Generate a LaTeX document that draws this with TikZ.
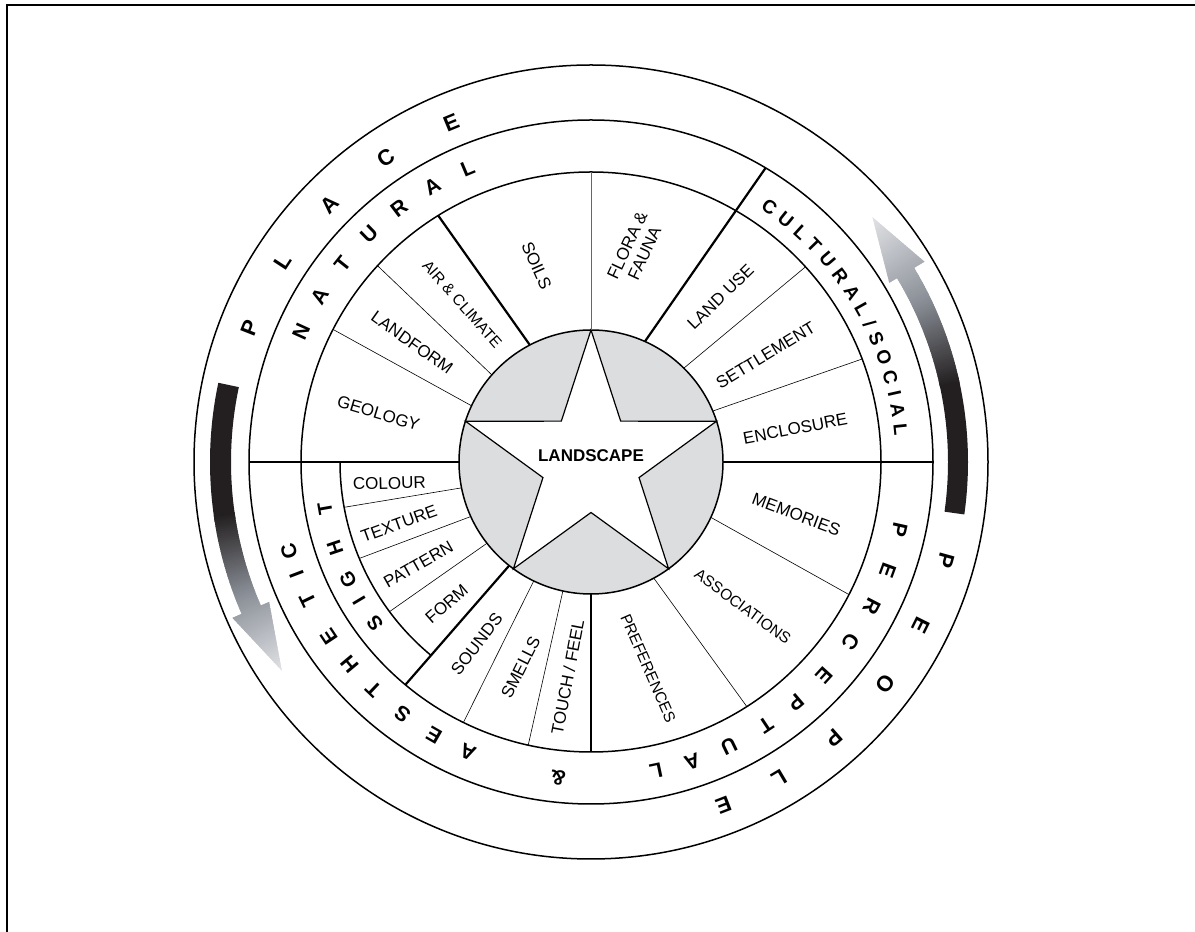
\documentclass[tikz,border=0pt]{standalone}
\usepackage{fontspec}
\setmainfont{Liberation Sans}
\definecolor{ablack}{HTML}{231F20}
\definecolor{amid}{HTML}{8C9199}
\definecolor{alight}{HTML}{E8E9EC}
\definecolor{hubgray}{HTML}{DCDDDF}
\newcommand\arcslices[6]{%
  \foreach \ii in {0,...,39}{%
    \pgfmathsetmacro\slA{#1+(#2-#1)*\ii/40}%
    \pgfmathsetmacro\slB{#1+(#2-#1)*(\ii+1.6)/40}%
    \pgfmathsetmacro\slP{100-2.5*\ii}%
    \fill[#3!\slP!#4] (\slA:#5) -- (\slA:#6) arc[start angle=\slA, end angle=\slB, radius=#6] -- (\slB:#5) arc[start angle=\slB, end angle=\slA, radius=#5] -- cycle;
  }}
\tikzset{
  ringbig/.style={font=\bfseries\fontsize{22}{22}\selectfont, inner sep=0pt},
  ringlet/.style={font=\bfseries\fontsize{21}{21}\selectfont, inner sep=0pt},
  ringsmall/.style={font=\bfseries\fontsize{19}{19}\selectfont, inner sep=0pt},
  sightlet/.style={font=\bfseries\fontsize{20}{20}\selectfont, inner sep=0pt},
  cell/.style={font=\fontsize{17}{19}\selectfont, inner sep=0pt, align=center},
  cellsm/.style={font=\fontsize{15.5}{17}\selectfont, inner sep=0pt},
  thickline/.style={line width=2.2pt},
  thinline/.style={line width=0.6pt},
  ringcircle/.style={line width=1.5pt},
}
\begin{document}
\begin{tikzpicture}[x=1pt,y=1pt]
\useasboundingbox (0,0) rectangle (1195,932);
\draw[line width=1.6pt] (7,0) -- (7,927) -- (1195,927);
\begin{scope}[shift={(591,470)}]
  % rings
  \draw[ringcircle] (0,0) circle[radius=397];
  \draw[ringcircle] (0,0) circle[radius=342];
  \draw[ringcircle] (0,0) circle[radius=290];
  \draw[ringcircle] (180:251) arc[start angle=180, end angle=230.4, radius=251];
  % hub
  \draw[ringcircle, fill=hubgray] (0,0) circle[radius=132];
  \draw[line width=1.2pt, fill=white] (90:132) -- (126:50.5) -- (162:132) -- (198:50.5) -- (234:132) -- (270:50.5) -- (306:132) -- (342:50.5) -- (18:132) -- (54:50.5) -- cycle;
  \node[font=\bfseries\fontsize{17}{17}\selectfont, inner sep=0pt] (landscape) at (0,6) {LANDSCAPE};
  % thick sector lines
  \draw[thickline] (180:132) -- (180:342);
  \draw[thickline] (0:132) -- (0:342);
  \draw[thickline] (117.6:132) -- (121.8:290);
  \draw[thickline] (65.9:132) -- (59.3:342);
  \draw[thickline] (231.7:132) -- (230.2:290);
  \draw[thickline] (270:132) -- (270:290);
  \draw[thinline, black!60] (90:132) -- (90:290);
  % thin sector lines
  \draw[thinline] (154.8:132) -- (152.8:290);
  \draw[thinline] (138.7:132) -- (137.4:290);
  \draw[thinline] (45.3:132) -- (42.3:290);
  \draw[thinline] (22.7:132) -- (20.8:290);
  \draw[thinline] (-24.8:132) -- (-27.2:290);
  \draw[thinline] (-61.6:132) -- (-57.5:290);
  \draw[thinline] (244.3:132) -- (243.9:290);
  \draw[thinline] (257.7:132) -- (257.5:290);
  \draw[thinline] (191.3:132) -- (190.4:251);
  \draw[thinline] (204.4:132) -- (202.6:251);
  \draw[thinline] (218:132) -- (216.6:251);
  % cell labels
  \node[cell, rotate=-16.7] (geology) at (167.1:218) {GEOLOGY};
  \node[cell, rotate=-35.5] (landform) at (146.3:214.9) {LANDFORM};
  \node[cellsm, rotate=-48.6] (air) at (129.2:203.8) {AIR \& CLIMATE};
  \node[cell, rotate=-66] (soils) at (105.5:203.7) {SOILS};
  \node[cell, rotate=65] (flora) at (78.1:217.4) {FLORA \&\\FAUNA};
  \node[cell, rotate=44.3] (landuse) at (51.9:210) {LAND USE};
  \node[cell, rotate=31.4] (settlement) at (31.5:204.8) {SETTLEMENT};
  \node[cell, rotate=10.8] (enclosure) at (9.3:207) {ENCLOSURE};
  \node[cell, rotate=-20.5] (memories) at (-14.4:212) {MEMORIES};
  \node[cellsm, rotate=-36.4] (associations) at (-43.6:209.6) {ASSOCIATIONS};
  \node[cellsm, rotate=-66.4] (preferences) at (-74.5:214) {PREFERENCES};
  \node[cell, rotate=79.3] (touch) at (263.8:216.6) {TOUCH / FEEL};
  \node[cell, rotate=63.4] (smells) at (251.1:217) {SMELLS};
  \node[cell, rotate=52.1] (sounds) at (237.9:215) {SOUNDS};
  \node[cell, rotate=41.2] (form) at (224.5:202.3) {FORM};
  \node[cell, rotate=29.6] (pattern) at (210.7:200.8) {PATTERN};
  \node[cell, rotate=19.9] (texture) at (197.8:201.6) {TEXTURE};
  \node[cell, rotate=1.5] (colour) at (186:202.8) {COLOUR};
  % ring letters
  \foreach \ch/\ang [count=\k] in {P/158.5,L/147,A/135.5,C/124,E/112.4}
    \node[ringbig, rotate=\ang-90] (place\k) at (\ang:367) {\ch};
  \foreach \ch/\ang [count=\k] in {P/-15.5,E/-26.4,O/-37.0,P/-48.7,L/-59.3,E/-68.9}
    \node[ringbig, rotate=\ang-90] (people\k) at (\ang:368) {\ch};
  \foreach \ch/\ang [count=\k] in {N/155.7,A/148.55,T/141.4,U/134.25,R/127.1,A/119.95,L/112.8}
    \node[ringlet, rotate=\ang-90] (natural\k) at (\ang:318) {\ch};
  \foreach \ch/\ang [count=\k] in {C/55.0,U/51.21,L/47.59,T/44.14,U/40.53,R/36.73,A/32.94,L/29.32,S/23.38,O/19.59,C/15.71,I/12.61,A/9.51,L/5.9}
    \node[ringsmall, rotate=\ang-90] (cult\k) at (\ang:311) {\ch};
  \node[ringsmall, rotate=26.4-90] (slash) at (26.4:311) {/};
  \foreach \ch/\ang [count=\k] in {P/-12.5,E/-20.1,R/-27.3,C/-34.8,E/-42.5,P/-49.6,T/-56.4,U/-64.1,A/-71.3,L/-78.1}
    \node[ringlet, rotate=\ang-90] (perc\k) at (\ang:316) {\ch};
  \node[ringlet, rotate=-95.9-90] (amp) at (-95.9:318) {\&};
  \foreach \ch/\ang [count=\k] in {A/247.0,E/240.1,S/233.2,T/226.3,H/219.9,E/213.6,T/205.9,I/200.8,C/196.5}
    \node[ringlet, rotate=\ang-90] (aest\k) at (\ang:315) {\ch};
  \foreach \ch/\ang [count=\k] in {S/216.8,I/210.8,G/205.9,H/198.6,T/189.9}
    \node[sightlet, rotate=\ang-90] (sight\k) at (\ang:270) {\ch};
  % left arrow
  \begin{scope}
    \clip (168:381) arc[start angle=168, end angle=203.5, radius=381] -- (203.5:391) -- (214:373) -- (203.5:351) -- (203.5:360) arc[start angle=203.5, end angle=168, radius=360] -- cycle;
    \fill[ablack] (167:330) -- (167:410) arc[start angle=167, end angle=189, radius=410] -- (189:330) arc[start angle=189, end angle=167, radius=330] -- cycle;
    \arcslices{188}{201}{ablack}{amid}{330}{410}
    \arcslices{201}{215}{amid}{alight}{330}{410}
  \end{scope}
  % right arrow
  \begin{scope}
    \clip (-8:357) arc[start angle=-8, end angle=31, radius=357] -- (31:348) -- (41:373) -- (31:389) -- (31:377) arc[start angle=31, end angle=-8, radius=377] -- cycle;
    \fill[ablack] (-9:330) -- (-9:410) arc[start angle=-9, end angle=13, radius=410] -- (13:330) arc[start angle=13, end angle=-9, radius=330] -- cycle;
    \arcslices{12}{26}{ablack}{amid}{330}{410}
    \arcslices{26}{42}{amid}{alight}{330}{410}
  \end{scope}
\end{scope}
\end{tikzpicture}
\end{document}
